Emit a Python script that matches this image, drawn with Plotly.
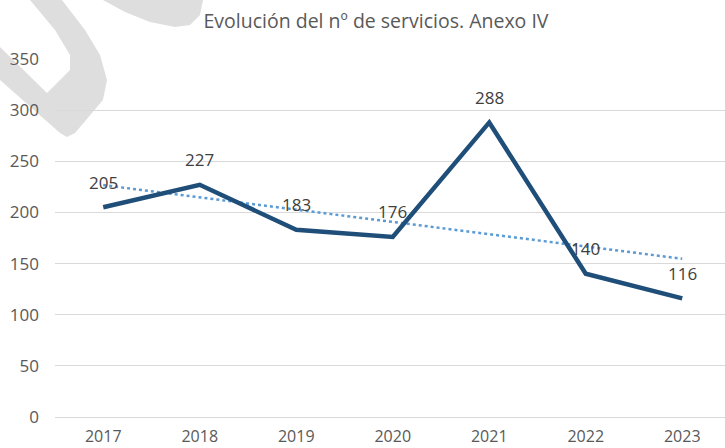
import numpy as np
import plotly.graph_objects as go

years = ["2017", "2018", "2019", "2020", "2021", "2022", "2023"]
servicios = [205, 227, 183, 176, 288, 140, 116]
y_ticks = [0, 50, 100, 150, 200, 250, 300, 350]

W, H = 725, 448
L, R, T, B = 55, 0, 59, 31
PW, PH = W - L - R, H - T - B

idx = np.arange(len(years))
slope, intercept = np.polyfit(idx, servicios, 1)
trend = slope * idx + intercept

fig = go.Figure()

# trendline (dotted)
fig.add_trace(go.Scatter(
    x=years, y=trend, mode="lines",
    line=dict(color="#5B9BD5", width=2.5, dash="dot"),
    hoverinfo="skip", showlegend=False,
))
# main series
fig.add_trace(go.Scatter(
    x=years, y=servicios, mode="lines",
    line=dict(color="#1F4E79", width=4.5),
    showlegend=False,
))

for i, v in enumerate(servicios):
    fig.add_annotation(
        x=i, y=v, xref="x", yref="y", text=str(v), showarrow=False, yshift=25,
        font=dict(family="Open Sans", size=17, color="#404040"),
    )

# watermark decoration (pixel -> paper conversion)
def px(xp, yp):
    return (xp - L) / PW, 1 - (yp - T) / PH

def path(points):
    pts = [px(a, b) for a, b in points]
    return "M " + " L ".join(f"{a:.4f},{b:.4f}" for a, b in pts) + " Z"

hook = [(30, 0), (62, 0), (85, 30), (100, 55), (107, 80), (103, 100),
        (75, 133), (67, 137), (60, 133), (0, 80), (0, 47), (47, 93),
        (70, 70), (70, 55), (55, 30)]
blob = [(103, 0), (125, 12), (150, 22), (175, 27), (190, 25), (200, 15), (203, 0)]
for shp in (hook, blob):
    fig.add_shape(type="path", path=path(shp), xref="paper", yref="paper",
                  fillcolor="#DEDEDE", line=dict(width=0), layer="below")

fig.update_layout(
    width=W, height=H,
    margin=dict(l=L, r=R, t=T, b=B),
    paper_bgcolor="white", plot_bgcolor="white",
    title=dict(text="Evolución del nº de servicios. Anexo IV",
               x=376 / W, xref="container", xanchor="center",
               y=1 - 21 / H, yref="container", yanchor="middle",
               font=dict(family="Open Sans", size=19.5, color="#595959")),
    font=dict(family="Open Sans", color="#595959"),
)
fig.update_xaxes(
    type="category", range=[-0.5, -0.5 + PW / 96.5],
    showgrid=False, showline=True, linecolor="#D9D9D9", linewidth=1,
    ticks="", tickfont=dict(size=16, color="#595959"),
    ticklabelstandoff=5, automargin=False,
)
fig.update_yaxes(
    range=[0, 350], tickvals=y_ticks,
    showgrid=True, gridcolor="#D9D9D9", gridwidth=1,
    zeroline=False, showline=False, ticks="",
    tickfont=dict(size=17, color="#595959"),
    ticklabelstandoff=15, automargin=False,
)

fig.write_html("out.html", config={"displayModeBar": False},
               post_script="document.body.style.margin='0';document.body.style.overflow='hidden';")
